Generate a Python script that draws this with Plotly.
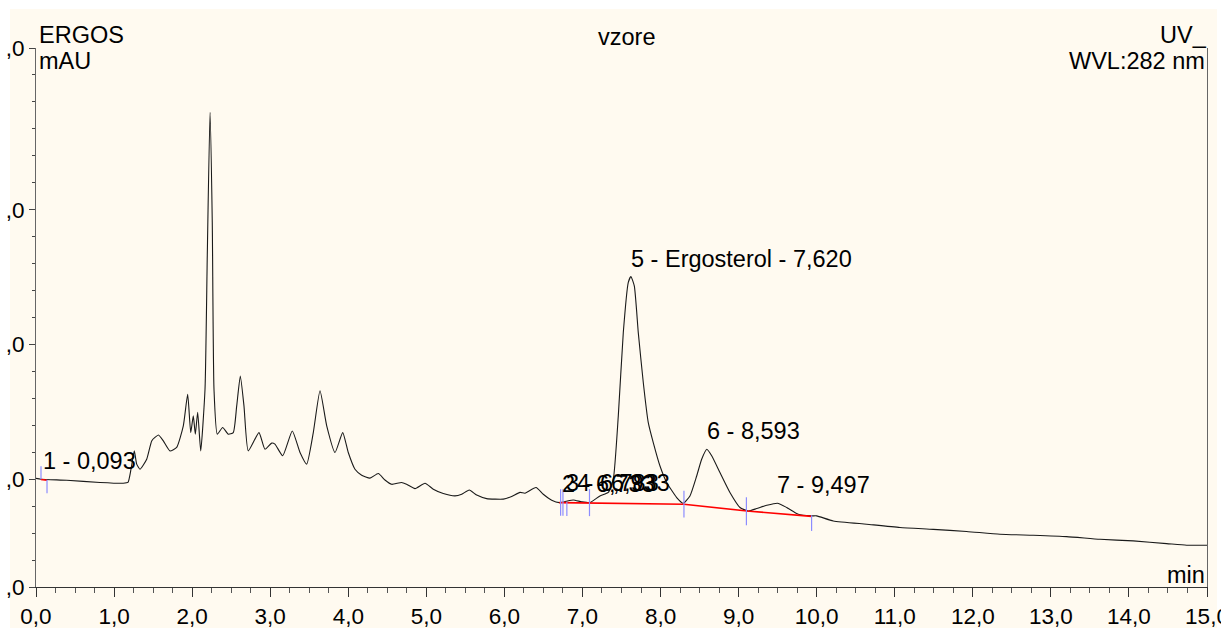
import plotly.graph_objects as go

# ---------------- data ----------------
time_min = [0.000, 0.064, 0.393, 0.820, 1.114, 1.178, 1.217, 1.259, 1.290, 1.332,
            1.418, 1.482, 1.524, 1.569, 1.631, 1.716, 1.802, 1.887, 1.943, 1.982,
            2.015, 2.041, 2.071, 2.110, 2.165, 2.194, 2.229, 2.258, 2.280, 2.322,
            2.391, 2.463, 2.527, 2.571, 2.617, 2.664, 2.719, 2.856, 2.933, 3.019,
            3.061, 3.160, 3.283, 3.382, 3.467, 3.552, 3.638, 3.724, 3.830, 3.929,
            4.000, 4.086, 4.172, 4.278, 4.385, 4.470, 4.556, 4.684, 4.748, 4.855,
            4.983, 5.089, 5.217, 5.367, 5.453, 5.550, 5.645, 5.773, 5.986, 6.093,
            6.200, 6.264, 6.405, 6.498, 6.606, 6.703, 6.789, 6.882, 6.990, 7.096,
            7.224, 7.331, 7.395,
            7.459, 7.523, 7.587, 7.620, 7.664, 7.715, 7.779, 7.843, 7.907, 7.993,
            8.079, 8.207, 8.291, 8.377, 8.463, 8.527, 8.593, 8.655, 8.761, 8.889,
            9.018, 9.124, 9.231, 9.360, 9.497, 9.616, 9.764, 9.936, 10.000, 10.213,
            10.640, 11.067, 11.494, 11.921, 12.348, 12.775, 13.202, 13.629, 14.055, 14.483,
            14.739, 15.000]
signal_mau = [0.3, 0.0, -0.4, -1.2, -1.5, -1.2, 3.7, 10.5, 5.6, 3.7,
              7.4, 14.2, 15.5, 16.4, 14.2, 10.5, 11.8, 19.8, 31.5, 17.3,
              23.5, 16.7, 24.8, 10.5, 33.4, 82.9, 136.1, 95.3, 33.4, 16.7,
              19.2, 16.7, 17.3, 27.2, 38.3, 27.2, 10.5, 17.3, 11.1, 13.4,
              13.0, 8.7, 17.9, 9.9, 5.6, 17.3, 32.8, 19.8, 9.9, 17.3,
              9.9, 3.7, 1.5, 0.4, 2.1, -0.3, -1.9, -1.2, -1.9, -3.5,
              -1.5, -3.7, -5.3, -6.2, -5.6, -4.0, -5.9, -7.2, -7.4, -6.4,
              -4.9, -5.2, -3.1, -5.6, -7.8, -8.7, -8.2, -7.7, -8.4, -8.7,
              -6.2, -4.9, 0.0,
              23.5, 54.4, 73.0, 75.2, 71.7, 54.4, 35.9, 21.0, 13.6, 4.9,
              -1.2, -6.8, -8.9, -6.2, 1.2, 7.4, 11.1, 8.7, 2.5, -4.9,
              -10.5, -11.8, -10.9, -9.7, -8.9, -10.5, -13.0, -13.6, -13.6, -15.5,
              -16.7, -17.9, -18.6, -19.4, -20.4, -20.8, -21.3, -22.3, -22.9, -23.9,
              -24.5, -24.5]

baseline_t = [6.703, 8.300, 9.107, 9.935]
baseline_v = [-8.7, -9.3, -11.8, -13.8]
peak1_base_t = [0.064, 0.141]
peak1_base_v = [-0.1, -0.4]

marker_t = [0.064, 0.141, 6.72, 6.75, 6.80, 7.09, 8.30, 9.10, 9.935]
marker_top = [4.8, -0.2, -3.7, -3.7, -8.5, -3.7, -4.3, -6.7, -13.4]
marker_bottom = [0.0, -5.2, -13.6, -13.6, -13.7, -13.7, -14.2, -17.1, -19.2]

peak_t = [0.093, 6.733, 6.783, 6.933, 7.620, 8.593, 9.497]
peak_apex = [0.0, -8.3, -8.2, -8.0, 75.2, 11.1, -8.9]
peak_text = ["1 - 0,093", "2 - 6,733", "3 - 6,783", "4 - 6,933",
             "5 - Ergosterol - 7,620", "6 - 8,593", "7 - 9,497"]

x_ticks = list(range(16))
x_ticktext = [f"{v},0" for v in x_ticks]
y_ticks = [-40, 0, 50, 100, 160]
y_ticktext = [",0", ",0", ",0", ",0", ",0"]

# ---------------- figure ----------------
W, H = 1221, 628
ML, MR, MT, MB = 36, 14, 48, 41
PW, PH = W - ML - MR, H - MT - MB
FONT = "Liberation Sans, Arial, sans-serif"
CREAM = "#FFFAF0"
LBL = 23.5


def xp(px):
    return (px - ML) / PW


def yp(py):
    return (H - MB - py) / PH


fig = go.Figure()

fig.add_trace(go.Scatter(x=time_min, y=signal_mau, mode="lines",
                         line=dict(color="#1a1a1a", width=1.1, shape="spline", smoothing=0.5),
                         hoverinfo="skip", showlegend=False))

fig.add_trace(go.Scatter(x=baseline_t, y=baseline_v, mode="lines",
                         line=dict(color="#ff0000", width=1.6),
                         hoverinfo="skip", showlegend=False))
fig.add_trace(go.Scatter(x=peak1_base_t, y=peak1_base_v, mode="lines",
                         line=dict(color="#ff0000", width=1.6),
                         hoverinfo="skip", showlegend=False))

mx, my = [], []
for t, top, bot in zip(marker_t, marker_top, marker_bottom):
    mx += [t, t, None]
    my += [top, bot, None]
fig.add_trace(go.Scatter(x=mx, y=my, mode="lines",
                         line=dict(color="#8c8cff", width=1.2),
                         hoverinfo="skip", showlegend=False))

annotations = []
for t, v, txt in zip(peak_t, peak_apex, peak_text):
    annotations.append(dict(x=t, y=v, xref="x", yref="y", text=txt, showarrow=False,
                            xanchor="left", yanchor="bottom", xshift=-2, yshift=3,
                            font=dict(family=FONT, size=LBL, color="#000")))

hdr = dict(family=FONT, size=LBL, color="#000")
annotations += [
    dict(x=xp(37), y=yp(35), xref="paper", yref="paper", text="ERGOS", showarrow=False,
         xanchor="left", yanchor="middle", font=hdr),
    dict(x=xp(37), y=yp(61), xref="paper", yref="paper", text="mAU", showarrow=False,
         xanchor="left", yanchor="middle", font=hdr),
    dict(x=xp(626), y=yp(37), xref="paper", yref="paper", text="vzore", showarrow=False,
         xanchor="center", yanchor="middle", font=hdr),
    dict(x=xp(1209), y=yp(35), xref="paper", yref="paper", text="UV_", showarrow=False,
         xanchor="right", yanchor="middle", font=hdr),
    dict(x=xp(1207), y=yp(61), xref="paper", yref="paper", text="WVL:282 nm", showarrow=False,
         xanchor="right", yanchor="middle", font=hdr),
    dict(x=xp(1207), y=yp(575), xref="paper", yref="paper", text="min", showarrow=False,
         xanchor="right", yanchor="middle", font=hdr),
]

shapes = [
    dict(type="rect", xref="paper", yref="paper", x0=xp(0), x1=xp(W), y0=yp(0), y1=yp(9),
         fillcolor="#ffffff", line=dict(width=0), layer="below"),
    dict(type="rect", xref="paper", yref="paper", x0=xp(0), x1=xp(10), y0=yp(0), y1=yp(H),
         fillcolor="#ffffff", line=dict(width=0), layer="below"),
    dict(type="rect", xref="paper", yref="paper", x0=xp(1217), x1=xp(W), y0=yp(0), y1=yp(H),
         fillcolor="#ffffff", line=dict(width=0), layer="below"),
]

fig.update_layout(
    width=W, height=H,
    margin=dict(l=ML, r=MR, t=MT, b=MB, pad=0, autoexpand=False),
    paper_bgcolor=CREAM, plot_bgcolor=CREAM,
    showlegend=False,
    annotations=annotations,
    shapes=shapes,
    font=dict(family=FONT, size=22, color="#000"),
    xaxis=dict(range=[0, 15], tickmode="array", tickvals=x_ticks, ticktext=x_ticktext,
               ticks="outside", ticklen=9, tickwidth=1, tickcolor="#333",
               showline=True, linecolor="#333", linewidth=1.3, mirror=False,
               showgrid=False, zeroline=False, automargin=False,
               ticklabeloverflow="allow",
               tickfont=dict(family=FONT, size=22.5, color="#000"),
               minor=dict(tickmode="linear", tick0=0, dtick=0.25, ticks="outside",
                          ticklen=5, tickcolor="#555", tickwidth=1)),
    yaxis=dict(range=[-40, 160], tickmode="array", tickvals=y_ticks, ticktext=y_ticktext,
               ticks="outside", ticklen=6, tickwidth=1, tickcolor="#444",
               showline=True, linecolor="#666", linewidth=1, mirror=True,
               showgrid=False, zeroline=False, automargin=False,
               ticklabeloverflow="allow",
               tickfont=dict(family=FONT, size=22.5, color="#000"),
               minor=dict(tickmode="linear", tick0=0, dtick=10, ticks="outside",
                          ticklen=3, tickcolor="#444", tickwidth=1)),
)

fig.write_html("out.html")
